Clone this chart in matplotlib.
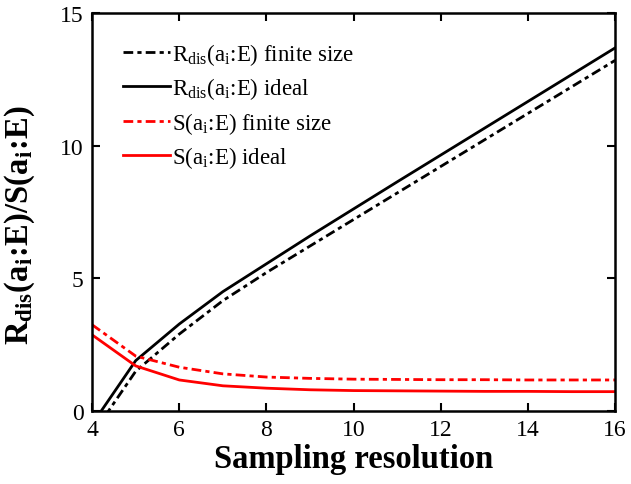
import matplotlib
matplotlib.use("Agg")
import matplotlib.pyplot as plt

# ==========================
# DATA
# ==========================

resolution = [4, 5, 6, 7, 8, 9, 10, 11, 12, 13, 14, 15, 16]

r_finite = [-0.9, 1.5, 2.9, 4.16, 5.22, 6.22, 7.22, 8.22, 9.22, 10.22, 11.22, 12.22, 13.22]
r_ideal = [-0.5, 1.9, 3.28, 4.5, 5.55, 6.6, 7.62, 8.64, 9.65, 10.66, 11.67, 12.68, 13.69]
s_finite = [3.25, 2.07, 1.65, 1.4, 1.28, 1.23, 1.2, 1.19, 1.18, 1.18, 1.17, 1.17, 1.17]
s_ideal = [2.87, 1.7, 1.17, 0.95, 0.86, 0.8, 0.77, 0.76, 0.75, 0.74, 0.74, 0.73, 0.73]

x_ticks = [4, 6, 8, 10, 12, 14, 16]
y_ticks = [0, 5, 10, 15]

# ==========================
# STYLE
# ==========================

plt.rcParams["font.family"] = ["Liberation Serif", "DejaVu Serif"]
plt.rcParams["mathtext.fontset"] = "custom"
plt.rcParams["mathtext.rm"] = "Liberation Serif"
plt.rcParams["mathtext.it"] = "Liberation Serif"
plt.rcParams["mathtext.bf"] = "Liberation Serif:bold"

fig = plt.figure(figsize=(6.31, 4.85), dpi=100)
ax = fig.add_axes([0.146, 0.1505, 0.829, 0.8205])

dashdot = (0, (3.5, 1.5, 1.5, 1.5))

ax.plot(resolution, r_finite, color="black", linestyle=dashdot, linewidth=2,
        label=r"R$_{\rm dis}$(a$_{\rm i}$:E) finite size")
ax.plot(resolution, r_ideal, color="black", linestyle="-", linewidth=2,
        label=r"R$_{\rm dis}$(a$_{\rm i}$:E) ideal")
ax.plot(resolution, s_finite, color="#ff0000", linestyle=dashdot, linewidth=2,
        label=r"S(a$_{\rm i}$:E) finite size")
ax.plot(resolution, s_ideal, color="#ff0000", linestyle="-", linewidth=2,
        label=r"S(a$_{\rm i}$:E) ideal")

ax.set_xlim(4, 16)
ax.set_ylim(0, 15)
ax.set_xticks(x_ticks)
ax.set_yticks(y_ticks)

ax.tick_params(direction="in", length=6, width=1.5, labelsize=17,
               top=True, right=True, pad=6)
for spine in ax.spines.values():
    spine.set_linewidth(1.8)

ax.set_xlabel("Sampling resolution", fontsize=23.5, fontweight="bold", labelpad=2)
ax.set_ylabel(r"$\mathbf{R_{dis}(a_i\!:\!E)/S(a_i\!:\!E)}$", fontsize=23.5)
ax.yaxis.set_label_coords(-0.105, 0.47)

ax.legend(loc="upper left", frameon=False, fontsize=16.5, handlelength=2.05,
          handletextpad=0.1, labelspacing=0.37, borderaxespad=0, borderpad=0,
          bbox_to_anchor=(0.059, 0.93))

plt.savefig("out.png", dpi=100)
plt.close()
